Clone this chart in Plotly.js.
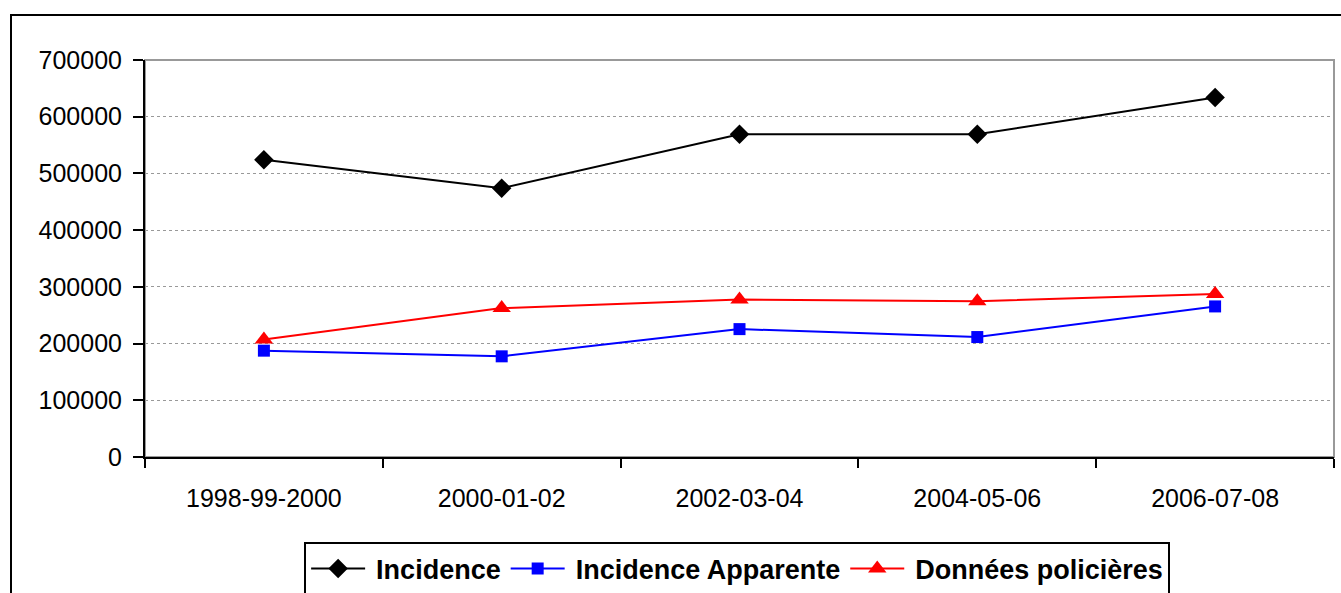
<!DOCTYPE html>
<html>
<head>
<meta charset="utf-8">
<script src="https://cdn.plot.ly/plotly-3.0.1.min.js"></script>
<style>
  html, body { margin: 0; padding: 0; background: #fff; }
  #chart { width: 1341px; height: 593px; }
</style>
</head>
<body>
<div id="chart"></div>
<script>
const periods = ['1998-99-2000', '2000-01-02', '2002-03-04', '2004-05-06', '2006-07-08'];
const incidence = [524000, 474000, 569000, 569000, 634000];
const incidenceApparente = [187500, 177500, 225500, 211500, 265500];
const donneesPolicieres = [207000, 262500, 277500, 274500, 287500];
const yTicks = [0, 100000, 200000, 300000, 400000, 500000, 600000, 700000];

const FONT = 'Arial, "Liberation Sans", sans-serif';

const traces = [
  { name: 'Incidence', y: incidence, color: '#000000', symbol: 'diamond', size: 15 },
  { name: 'Incidence Apparente', y: incidenceApparente, color: '#0000ff', symbol: 'square', size: 12 },
  { name: 'Données policières', y: donneesPolicieres, color: '#ff0000', symbol: 'triangle-up', size: 16 },
].map(s => ({
  x: periods, y: s.y, name: s.name,
  type: 'scatter', mode: 'lines+markers',
  line: { color: s.color, width: 2 },
  marker: { color: s.color, symbol: s.symbol, size: s.size },
  hovertemplate: '%{y}<extra></extra>',
}));

const layout = {
  width: 1341, height: 593,
  margin: { l: 145, r: 7, t: 60, b: 135.5, autoexpand: false },
  paper_bgcolor: '#fff', plot_bgcolor: '#fff',
  font: { family: FONT, size: 25, color: '#000' },
  showlegend: true,
  xaxis: {
    type: 'category', range: [-0.5, 4.5],
    tickson: 'boundaries', ticks: 'outside', ticklen: 9, tickwidth: 2, tickcolor: '#000',
    showline: true, linecolor: '#000', linewidth: 2,
    showgrid: false, zeroline: false,
    ticklabelstandoff: 18,
    tickfont: { family: FONT, size: 25, color: '#000' },
  },
  yaxis: {
    range: [0, 700000], tickvals: yTicks, ticktext: yTicks.map(String),
    ticks: 'outside', ticklen: 10, tickwidth: 2, tickcolor: '#000',
    showline: true, linecolor: '#000', linewidth: 2,
    showgrid: true, gridcolor: '#999', gridwidth: 1, griddash: 'dot',
    zeroline: false,
    ticklabelstandoff: 6,
    tickfont: { family: FONT, size: 25, color: '#000' },
  },
  legend: {
    orientation: 'h', x: 0.498, xanchor: 'center', y: -0.215, yanchor: 'top',
    bordercolor: '#000', borderwidth: 2, bgcolor: '#fff',
    font: { family: FONT, size: 27, color: '#000', weight: 'bold' },
    itemwidth: 60, tracegroupgap: 0,
  },
  shapes: [
    // outer chart frame (runs off the right/bottom edges)
    { type: 'rect', xref: 'paper', yref: 'paper',
      x0: (11 - 145) / 1189, x1: 1.05, y0: -0.5, y1: (457.5 - 15) / 397.5,
      line: { color: '#000', width: 2 }, layer: 'below' },
    // plot area border (grey top/right)
    { type: 'rect', xref: 'paper', yref: 'paper', x0: 0, x1: 1, y0: 0, y1: 1,
      line: { color: '#999', width: 2 }, layer: 'below' },
  ],
};

Plotly.newPlot('chart', traces, layout, { displayModeBar: false, staticPlot: true }).then(gd => {
  // longer legend line samples, marker centred on them (Excel style)
  gd.querySelectorAll('.legend .legendlines path').forEach(p => p.setAttribute('d', 'M5,0h54'));
  gd.querySelectorAll('.legend .legendpoints path.scatterpts').forEach(p => {
    p.setAttribute('transform', 'translate(32,0)');
  });
});
</script>
</body>
</html>
